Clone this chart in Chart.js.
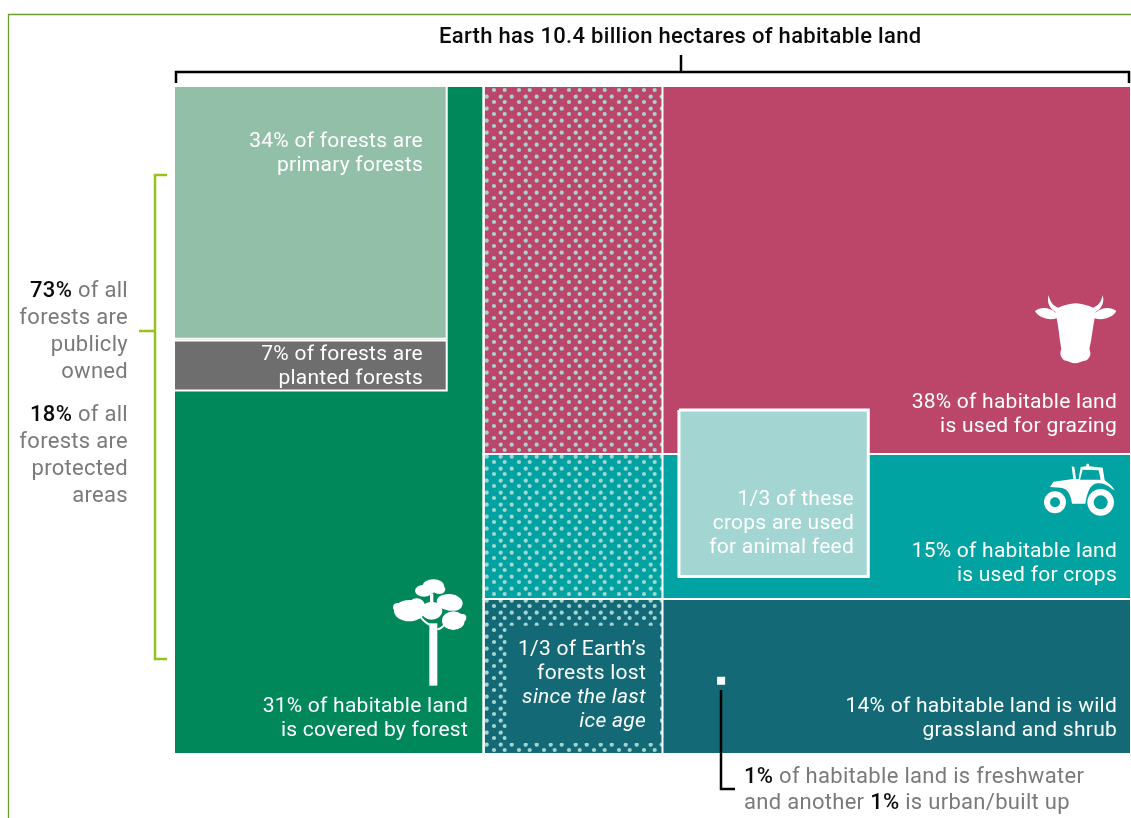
<!DOCTYPE html>
<html>
<head>
<meta charset="utf-8">
<title>Habitable land</title>
<style>
  html, body { margin: 0; background: #fff; }
  canvas { display: block; }
</style>
</head>
<body>
<canvas id="landChart" width="1131" height="818"></canvas>
<script src="https://cdn.jsdelivr.net/npm/chart.js@4"></script>
<script>
// shares of habitable land, as printed on the labels
const forestShare = 31;
const rowNames = ['Grazing', 'Crops', 'Wild grassland, freshwater, urban'];
const rowShares = [38, 15, 16]; // last row = 14 + 1 + 1
const rowColors = ['#BC4669', '#00A3A1', '#136A76'];

// x extent of the whole block and of the "lost forest" strip, y runs over the rows
const xMax = 95.8;
const lostForestEnd = 48.9;

// boxes inside the rows: [x0, x1, y0, y1]
const primaryBox = [0, 27.3, 0, 26.1];
const plantedBox = [0, 27.3, 26.3, 31.45];
const feedBox = [50.55, 69.5, 33.46, 50.66];
const lostLabelBox = [33.3, 48.65, 55.74, 67.86];
const builtUpBox = [54.37, 55.17, 61.02, 61.85];

const C = {
  forest: '#00875A', primary: '#92BFA8', planted: '#6E6E6E', feed: '#A3D5D2',
  frame: '#6F9E30', bracket: '#97C11F', grey: '#7A7A7A', black: '#0A0A0A'
};

const rect = (x0, x1, y0, y1) => [
  { x: x0, y: y0 }, { x: x1, y: y0 }, { x: x1, y: y1 }, { x: x0, y: y1 }, { x: x0, y: y0 }
];

// staggered dots for the lost forest strip
function dotPattern() {
  const tile = document.createElement('canvas');
  tile.width = 25;
  tile.height = 12;
  const t = tile.getContext('2d');
  t.fillStyle = C.feed;
  [[19, 6], [4.7, 6], [11.7, 0.7], [0.7, 0.7], [11.7, 12.7], [0.7, 12.7], [25.7, 0.7], [25.7, 12.7]].forEach(([x, y]) => {
    t.beginPath();
    t.arc(x, y, 2.1, 0, Math.PI * 2);
    t.fill();
  });
  return t.createPattern(tile, 'repeat');
}

const box = (label, pts, color, borderWidth = 2) => ({
  label,
  data: pts,
  showLine: true,
  fill: 'shape',
  backgroundColor: color,
  borderColor: borderWidth ? '#fff' : color,
  borderWidth,
  borderJoinStyle: 'miter',
  pointRadius: 0,
  tension: 0,
  clip: false
});

const rowTotal = rowShares.reduce((a, b) => a + b, 0);
const dots = dotPattern();

// listed bottom layer first, reversed below since Chart.js paints the first dataset last
const layers = [box('Forest', rect(0, forestShare, 0, rowTotal), C.forest)];
let y0 = 0;
rowShares.forEach((share, i) => {
  layers.push(box(rowNames[i], rect(forestShare, xMax, y0, y0 + share), rowColors[i]));
  y0 += share;
});
y0 = 0;
rowShares.forEach((share, i) => {
  layers.push(box('Lost forest ' + rowNames[i], rect(forestShare, lostForestEnd, y0, y0 + share), dots));
  y0 += share;
});
layers.push(box('Primary forests', rect(...primaryBox), C.primary));
layers.push(box('Planted forests', rect(...plantedBox), C.planted));
layers.push(box('Animal feed', rect(...feedBox), C.feed, 3));
layers.push(box('Lost forest label', rect(...lostLabelBox), rowColors[2], 0));
layers.push(box('Freshwater and urban', rect(...builtUpBox), '#fff', 0));

const W = '#fff';
const FONT = 'Roboto, "Noto Sans", sans-serif';

// [align, x, baseline, size, runs]; a run is [text, color, weight, italic]
const labels = [
  ['l', 439, 43, 22, [['Earth has 10.4 billion hectares of habitable land', C.black, 500]]],
  ['r', 422, 147, 21, [['34% of forests are', W]]],
  ['r', 422, 171, 21, [['primary forests', W]]],
  ['r', 422, 360, 21, [['7% of forests are', W]]],
  ['r', 422, 384, 21, [['planted forests', W]]],
  ['r', 467, 712, 21, [['31% of habitable land', W]]],
  ['r', 467, 736, 21, [['is covered by forest', W]]],
  ['r', 645, 655, 21, [['1/3 of Earth’s', W]]],
  ['r', 645, 679, 21, [['forests lost', W]]],
  ['r', 645, 703, 21, [['since the last', W, 400, true]]],
  ['r', 645, 727, 21, [['ice age', W, 400, true]]],
  ['r', 1116, 408, 21, [['38% of habitable land', W]]],
  ['r', 1116, 432, 21, [['is used for grazing', W]]],
  ['r', 1116, 557, 21, [['15% of habitable land', W]]],
  ['r', 1116, 581, 21, [['is used for crops', W]]],
  ['r', 853, 505, 21, [['1/3 of these', W]]],
  ['r', 853, 529, 21, [['crops are used', W]]],
  ['r', 853, 553, 21, [['for animal feed', W]]],
  ['r', 1116, 712, 21, [['14% of habitable land is wild', W]]],
  ['r', 1116, 736, 21, [['grassland and shrub', W]]],
  ['l', 744, 783, 22, [['1%', C.black, 500], [' of habitable land is freshwater', C.grey]]],
  ['l', 744, 809, 22, [['and another ', C.grey], ['1%', C.black, 500], [' is urban/built up', C.grey]]],
  ['r', 127, 297, 22, [['73%', C.black, 500], [' of all', C.grey]]],
  ['r', 127, 324, 22, [['forests are', C.grey]]],
  ['r', 127, 351, 22, [['publicly', C.grey]]],
  ['r', 127, 378, 22, [['owned', C.grey]]],
  ['r', 127, 421, 22, [['18%', C.black, 500], [' of all', C.grey]]],
  ['r', 127, 448, 22, [['forests are', C.grey]]],
  ['r', 127, 475, 22, [['protected', C.grey]]],
  ['r', 127, 502, 22, [['areas', C.grey]]]
];

function drawLabel(ctx, [align, x, y, size, runs]) {
  const fontOf = r => `${r[3] ? 'italic ' : ''}${r[2] || 400} ${size}px ${FONT}`;
  ctx.letterSpacing = size === 22 ? '0.3px' : '0.25px';
  let total = 0;
  runs.forEach(r => { ctx.font = fontOf(r); total += ctx.measureText(r[0]).width; });
  let cx = align === 'r' ? x - total + 1 : x;
  ctx.textAlign = 'left';
  ctx.textBaseline = 'alphabetic';
  runs.forEach(r => {
    ctx.font = fontOf(r);
    ctx.fillStyle = r[1];
    ctx.fillText(r[0], cx, y);
    cx += ctx.measureText(r[0]).width;
  });
}

function polyline(ctx, color, width, pts) {
  ctx.strokeStyle = color;
  ctx.lineWidth = width;
  ctx.lineJoin = 'miter';
  ctx.beginPath();
  pts.forEach(([x, y], i) => (i ? ctx.lineTo(x, y) : ctx.moveTo(x, y)));
  ctx.stroke();
}

function ell(ctx, x, y, rx, ry, rot = 0) {
  ctx.beginPath();
  ctx.ellipse(x, y, rx, ry, rot, 0, Math.PI * 2);
  ctx.fill();
}

// icons are sketched at 3x and scaled down
function withIcon(ctx, ox, oy, fn) {
  ctx.save();
  ctx.translate(ox, oy);
  ctx.scale(1 / 3, 1 / 3);
  ctx.fillStyle = '#fff';
  fn();
  ctx.restore();
}

function drawTree(ctx) {
  withIcon(ctx, 380, 570, () => {
    ctx.fillRect(148, 160, 24, 187);
    ctx.fillRect(150, 70, 10, 40);
    ctx.strokeStyle = '#fff';
    ctx.lineWidth = 6;
    ctx.beginPath();
    ctx.moveTo(118, 133);
    ctx.quadraticCurveTo(126, 152, 150, 165);
    ctx.moveTo(172, 178);
    ctx.quadraticCurveTo(186, 176, 194, 162);
    ctx.stroke();
    // crown clumps
    ell(ctx, 132, 62, 27, 18);
    ell(ctx, 160, 48, 33, 20);
    ell(ctx, 178, 58, 18, 14);
    ell(ctx, 209, 97, 39, 25, 0.1);
    ell(ctx, 225, 102, 22, 20);
    ell(ctx, 88, 122, 46, 32);
    ell(ctx, 110, 110, 26, 25);
    ell(ctx, 52, 112, 13, 13);
    ell(ctx, 155, 122, 32, 27);
    ell(ctx, 220, 152, 34, 28);
    ell(ctx, 248, 143, 11, 11);
  });
}

function drawCow(ctx) {
  const head = new Path2D(
    'M86 30 C90 52 100 62 114 68 C130 62 150 56 167 55 C184 56 204 62 220 68 ' +
    'C234 62 244 52 248 30 C254 52 246 70 228 80 L226 84 C244 66 272 64 289 78 ' +
    'C280 96 250 108 224 100 C218 128 216 160 208 192 C214 206 212 216 200 226 ' +
    'C186 228 176 235 165 235 C154 235 146 228 132 226 C122 216 118 206 124 192 ' +
    'C118 160 116 128 110 100 C84 108 54 96 45 78 C62 64 90 66 108 84 L106 80 C88 70 80 52 86 30 Z'
  );
  withIcon(ctx, 1020, 285, () => ctx.fill(head));
}

function drawTractor(ctx) {
  const body = new Path2D(
    'M60 96 L70 80 L130 72 L125 34 L133 36 L138 72 L146 72 L152 36 L168 34 L170 26 L176 26 L178 34 L218 38 L224 76 ' +
    'C236 84 248 94 254 106 L246 102 C232 88 212 82 196 86 C182 90 172 108 166 146 L126 146 C122 112 108 98 90 98 Z'
  );
  const glass = new Path2D('M158 44 L206 46 L212 74 L150 74 Z');
  withIcon(ctx, 1030, 455, () => {
    ctx.fill(body);
    ctx.fillStyle = rowColors[1];
    ctx.fill(glass);
    ctx.fillStyle = '#fff';
    ell(ctx, 75, 142, 33, 33);
    ell(ctx, 212, 142, 40, 40);
    ctx.fillStyle = rowColors[1];
    ell(ctx, 75, 142, 15, 15);
    ell(ctx, 212, 142, 21, 21);
  });
}

const overlay = {
  id: 'overlay',
  afterDraw(chart) {
    const ctx = chart.ctx;
    ctx.save();
    polyline(ctx, C.frame, 1.3, [[8.5, 818], [8.5, 14.5], [1131, 14.5]]);
    // top brace over the block
    polyline(ctx, '#000', 2.5, [[176, 83], [176, 72], [1129, 72], [1129, 83]]);
    polyline(ctx, '#000', 2.5, [[681, 72], [681, 55]]);
    // forest bracket, publicly owned share
    polyline(ctx, C.bracket, 2.5, [[167, 175], [155, 175], [155, 659], [167, 659]]);
    polyline(ctx, C.bracket, 2.5, [[139, 331], [155, 331]]);
    // leader from the small square
    polyline(ctx, '#000', 2.5, [[721, 690], [721, 789], [735, 789]]);
    drawTree(ctx);
    drawCow(ctx);
    drawTractor(ctx);
    labels.forEach(l => drawLabel(ctx, l));
    ctx.restore();
  }
};

new Chart(document.getElementById('landChart'), {
  type: 'scatter',
  data: { datasets: layers.reverse() },
  options: {
    responsive: false,
    animation: false,
    events: [],
    layout: { padding: { left: 174, right: 0, top: 86, bottom: 64 } },
    scales: {
      x: { type: 'linear', min: 0, max: xMax, display: false },
      y: { type: 'linear', min: 0, max: rowTotal, reverse: true, display: false }
    },
    plugins: { legend: { display: false }, tooltip: { enabled: false } }
  },
  plugins: [overlay]
});
</script>
</body>
</html>
